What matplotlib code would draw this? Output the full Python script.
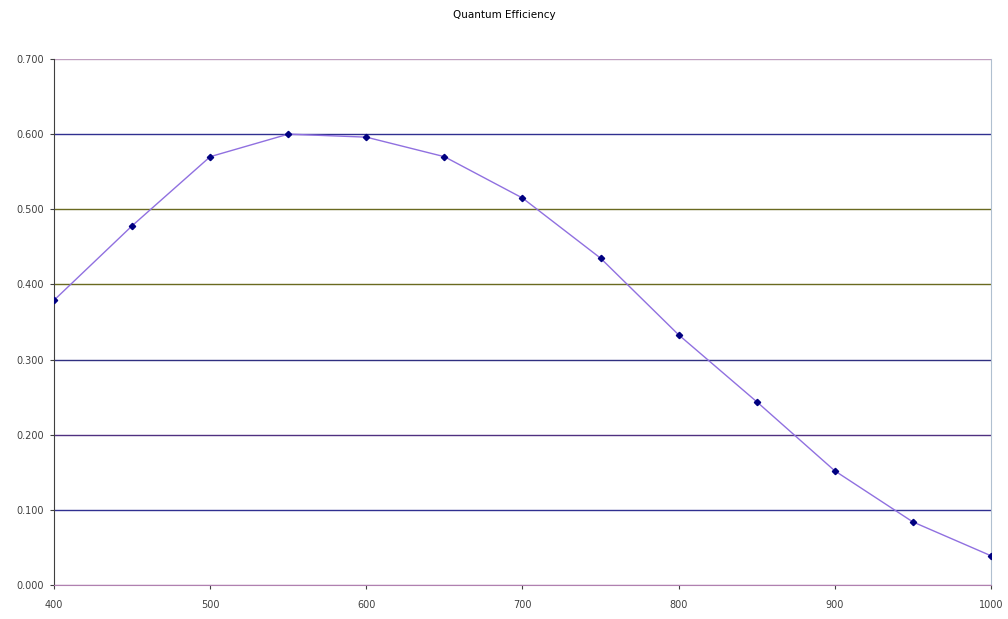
import matplotlib
matplotlib.use("Agg")
import matplotlib.pyplot as plt
from matplotlib.ticker import FormatStrFormatter

wavelength = [400, 450, 500, 550, 600, 650, 700, 750, 800, 850, 900, 950, 1000]
qe = [0.379, 0.478, 0.570, 0.600, 0.596, 0.570, 0.515, 0.435, 0.333, 0.244, 0.152, 0.084, 0.039]
y_ticks = [0.0, 0.1, 0.2, 0.3, 0.4, 0.5, 0.6, 0.7]
x_ticks = [400, 500, 600, 700, 800, 900, 1000]
grid_colors = ["#b080b0", "#303090", "#503080", "#303080", "#6a6a20", "#6a6a20", "#303090", "#c0a0c0"]

fig = plt.figure(figsize=(10.08, 6.19), dpi=100)
ax = fig.add_axes([0.0536, 0.0549, 0.9294, 0.8498])

for yv, c in zip(y_ticks, grid_colors):
    ax.axhline(yv, color=c, lw=1.0, zorder=1)

ax.plot(wavelength, qe, color="#9070e0", lw=1.0, marker="D", markersize=3.2,
        markerfacecolor="#000080", markeredgecolor="#000080", zorder=3)

ax.set_xlim(400, 1000)
ax.set_ylim(0, 0.7)
ax.set_xticks(x_ticks)
ax.set_yticks(y_ticks)
ax.yaxis.set_major_formatter(FormatStrFormatter("%.3f"))
ax.tick_params(axis="both", labelsize=7, colors="#404040", length=3, width=0.8, direction="out", pad=4)
ax.tick_params(axis="x", pad=8)

ax.spines["left"].set_color("#404040")
ax.spines["bottom"].set_color("#b080b0")
ax.spines["top"].set_visible(False)
ax.spines["right"].set_color("#b0c0d0")

fig.text(0.5, 0.975, "Quantum Efficiency", ha="center", va="center", fontsize=7.5, color="#000000")

fig.savefig("out.png", dpi=100)
